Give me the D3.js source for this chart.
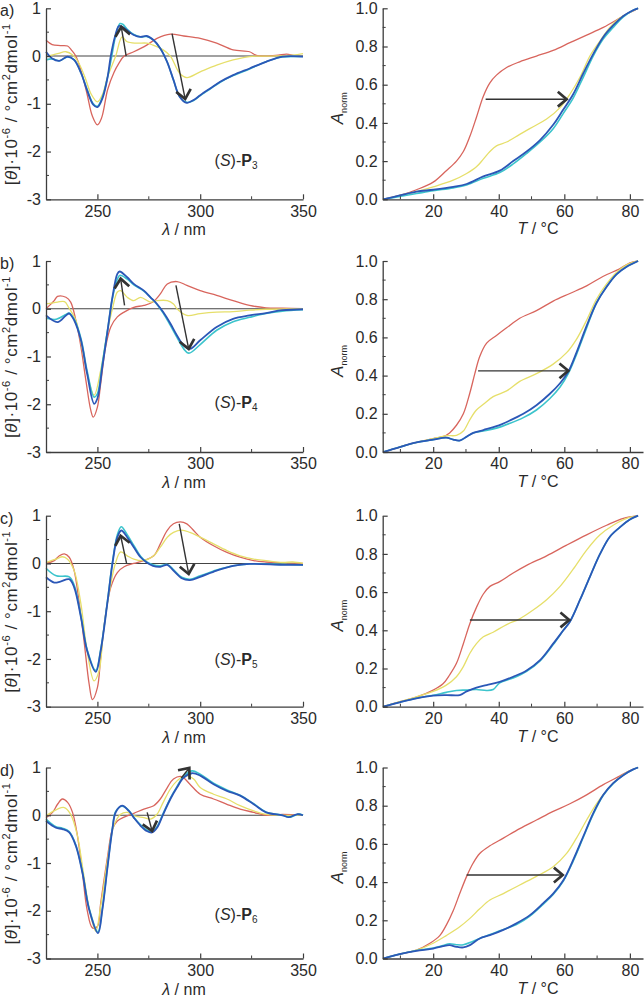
<!DOCTYPE html>
<html>
<head>
<meta charset="utf-8">
<script src="https://cdn.jsdelivr.net/npm/d3@7"></script>
<style>
  body { margin: 0; background: #fff; }
  svg { display: block; font-family: "Liberation Sans", Arial, sans-serif; }
</style>
</head>
<body>
<svg id="chart" width="644" height="996"></svg>
<script>
// ---- data ----
// CD spectra: [wavelength nm, theta x 1e-6]
var cdP3Red = [[225,0.33],[228,0.24],[232,0.22],[235.5,0.21],[237.5,0.12],[239.5,0],[242,-0.3],[245,-0.8],[247.5,-1.25],[250,-1.44],[252,-1.3],[255,-0.7],[258,-0.35],[260.5,-0.15],[263,0],[267.7,0.09],[274,0.23],[279,0.37],[285.5,0.46],[292,0.42],[300,0.37],[308,0.27],[316,0.13],[324,0.09],[327,0.02],[332,0],[338,0.02],[342,0.04],[346,0.01],[350,0]];
var cdP3Yellow = [[225,-0.01],[230.6,0.05],[234.7,0.09],[238,0.02],[241,-0.15],[244,-0.45],[247,-0.8],[250,-0.96],[252.5,-0.8],[255,-0.43],[258.9,0],[262,0.4],[264.5,0.3],[269,0.27],[274,0.27],[277,0.23],[282,0.13],[285.5,0],[290,-0.36],[293.5,-0.45],[300,-0.33],[308,-0.19],[316,-0.08],[324,-0.01],[335,0],[345,0.02],[350,0.05]];
var cdP3Cyan = [[225,-0.08],[228,-0.06],[231.5,-0.1],[235.5,-0.02],[238.7,-0.08],[242,-0.35],[245,-0.7],[248,-1.0],[250,-1.05],[252.5,-0.85],[255,-0.43],[257,0],[259,0.45],[261,0.68],[262.5,0.66],[264.5,0.56],[267.7,0.45],[271,0.4],[274,0.41],[277.4,0.33],[280.6,0.16],[283.9,-0.12],[287,-0.5],[290,-0.85],[293.5,-0.97],[296.8,-0.93],[300,-0.83],[304.8,-0.69],[309.7,-0.55],[316,-0.41],[324,-0.27],[332,-0.12],[340,-0.02],[350,-0.01]];
var cdP3Blue = [[225,0.09],[228,-0.05],[231.5,-0.1],[235.5,-0.01],[238.7,-0.08],[242,-0.35],[245,-0.72],[248,-1.02],[250,-1.07],[252.5,-0.88],[255,-0.43],[256.5,0],[258.5,0.4],[260.5,0.63],[262.5,0.6],[264.5,0.54],[267.7,0.44],[271,0.4],[274,0.42],[277.4,0.33],[280.6,0.16],[283.9,-0.12],[287,-0.5],[290,-0.85],[293.5,-0.98],[296.8,-0.92],[300,-0.82],[304.8,-0.68],[309.7,-0.54],[316,-0.4],[324,-0.26],[332,-0.12],[340,-0.01],[350,-0.01]];

var cdP4Red = [[225,0],[229,0.17],[230.6,0.26],[234.7,0.24],[237,0.14],[239.5,-0.24],[242,-0.8],[244.4,-1.5],[246.8,-2.13],[248,-2.27],[250,-2.06],[251.6,-1.57],[254,-0.8],[256.5,-0.38],[259.7,-0.17],[263,-0.07],[267.7,0.03],[272.6,0.07],[277,0.14],[280.6,0.31],[284,0.52],[288.7,0.57],[293.5,0.49],[300,0.38],[308,0.28],[316,0.17],[324,0.07],[332,0.02],[340,0.01],[350,0]];
var cdP4Yellow = [[225,0.1],[230.6,0.14],[234,0.15],[236,0.03],[239.5,-0.24],[242,-0.7],[245,-1.35],[248.4,-1.81],[251.6,-1.29],[255,-0.45],[257.3,0],[259.7,0.35],[261.3,0.38],[264.5,0.24],[267.7,0.17],[271,0.24],[275.8,0.14],[279,0.17],[284,0.17],[287,0.1],[288.7,0],[293.5,-0.14],[300,-0.1],[308,-0.07],[316,-0.06],[324,-0.03],[332,-0.01],[350,0]];
var cdP4Cyan = [[225,-0.2],[230,-0.22],[234.7,-0.12],[236.3,-0.09],[238.7,-0.22],[242,-0.62],[245,-1.3],[248.4,-1.85],[250,-1.78],[252.4,-1.15],[255,-0.42],[257.3,0.22],[259.7,0.62],[261,0.7],[264.5,0.62],[267.7,0.5],[272.6,0.37],[275.8,0.24],[279,0.09],[282,-0.09],[285.5,-0.35],[288.7,-0.6],[292,-0.84],[294.5,-0.93],[300,-0.75],[308,-0.45],[316,-0.27],[324,-0.18],[332,-0.1],[340,-0.05],[350,-0.02]];
var cdP4Blue = [[225,-0.14],[230.6,-0.28],[234.7,-0.14],[236.3,-0.1],[238.7,-0.24],[242,-0.66],[245,-1.36],[248.4,-1.99],[250,-1.88],[252.4,-1.22],[255,-0.45],[257.3,0.24],[259.7,0.73],[260.8,0.78],[264.5,0.66],[267.7,0.52],[272.6,0.38],[275.8,0.24],[279,0.1],[282,-0.07],[285.5,-0.31],[288.7,-0.56],[292,-0.77],[295,-0.84],[300,-0.66],[308,-0.38],[316,-0.21],[324,-0.14],[332,-0.09],[340,-0.03],[350,-0.01]];

var cdP5Red = [[225,0],[229,0.06],[231.5,0.16],[233.9,0.2],[236.3,0.13],[238.7,-0.15],[241,-0.78],[243.5,-1.62],[246,-2.53],[247.6,-2.85],[250,-2.6],[251.6,-1.97],[254,-1.06],[256.5,-0.5],[259.7,-0.19],[263,-0.07],[267.7,0],[272.6,0.06],[277.4,0.16],[280.6,0.41],[283.9,0.69],[287,0.83],[290.3,0.87],[293.5,0.83],[296.8,0.69],[300,0.55],[306.5,0.37],[313,0.23],[319.4,0.13],[326,0.06],[332,0.03],[340,0.01],[350,0]];
var cdP5Yellow = [[225,0.02],[229.8,0.09],[233,0.14],[235.5,0.09],[238.7,-0.15],[242,-0.85],[245,-1.83],[248.4,-2.46],[250.8,-2.25],[253,-1.41],[256.5,-0.43],[258.9,0.02],[261.3,0.24],[264.5,0.16],[267.7,0.09],[272.6,0.06],[277.4,0.16],[280.6,0.34],[284,0.55],[287,0.65],[291,0.7],[295,0.65],[300,0.55],[306.5,0.41],[313,0.27],[319.4,0.16],[326,0.09],[332,0.06],[340,0.02],[345,0.03],[350,0]];
var cdP5Cyan = [[225,-0.1],[230,-0.26],[236.3,-0.28],[238.7,-0.45],[242,-1.1],[245,-1.8],[249.2,-2.24],[251.6,-1.8],[255,-0.75],[257.3,0.02],[259.7,0.6],[261.6,0.77],[264.5,0.6],[267.7,0.38],[271,0.15],[274,0.03],[277,-0.03],[280.6,-0.05],[284,-0.02],[287,-0.13],[291,-0.29],[295,-0.33],[300,-0.26],[308,-0.14],[316,-0.05],[324,-0.01],[340,-0.02],[350,-0.03]];
var cdP5Blue = [[225,-0.29],[229,-0.4],[232,-0.38],[236.3,-0.33],[238.7,-0.5],[242,-1.13],[245,-1.83],[249.2,-2.27],[251.6,-1.83],[255,-0.78],[257.3,-0.01],[259.7,0.55],[261.6,0.69],[264.5,0.55],[267.7,0.34],[271,0.13],[274,0.02],[277,-0.05],[280.6,-0.07],[284,-0.03],[287,-0.15],[291,-0.31],[295,-0.35],[300,-0.28],[308,-0.15],[316,-0.05],[324,-0.01],[340,-0.03],[350,-0.03]];

var cdP6Red = [[225,-0.05],[228.2,0.06],[230.6,0.23],[233,0.34],[235.5,0.27],[237.9,0.06],[240.3,-0.43],[242.7,-1.2],[245,-1.98],[247.6,-2.36],[250,-2.33],[251.6,-1.84],[255,-0.85],[257.3,-0.29],[259.7,-0.12],[263,-0.04],[267.7,0.04],[272.6,0.13],[277.4,0.2],[280.6,0.34],[284,0.58],[287,0.76],[291,0.81],[295,0.65],[300,0.44],[306.5,0.34],[313,0.23],[319.4,0.13],[326,0.06],[332,0],[340,0.02],[350,0]];
var cdP6Yellow = [[225,-0.01],[230.6,0.13],[233.9,0.16],[237,0.02],[240.3,-0.43],[243,-1.15],[246,-1.95],[249.2,-2.43],[251.6,-1.9],[255,-0.92],[258,-0.22],[261.3,0.02],[264.5,0.06],[267.7,-0.01],[272.6,-0.05],[275.8,-0.08],[279,0.02],[282,0.27],[285.5,0.55],[288.7,0.72],[292.7,0.83],[296.8,0.76],[300,0.58],[306.5,0.44],[313,0.34],[319.4,0.2],[326,0.09],[332,0.02],[350,0]];
var cdP6Cyan = [[225,-0.08],[229.8,-0.24],[233,-0.27],[236.3,-0.34],[239.5,-0.62],[242.7,-1.18],[246,-1.95],[250.3,-2.44],[252.4,-1.96],[255,-1.04],[257.3,-0.27],[258.9,0.08],[262,0.19],[265.3,0.1],[267.7,-0.04],[271,-0.2],[274,-0.31],[276.6,-0.34],[279,-0.24],[282,0.04],[285.5,0.36],[288.7,0.6],[292,0.82],[296,0.93],[300,0.86],[306.5,0.67],[313,0.53],[319.4,0.42],[326,0.24],[332,0.07],[340,0],[344,-0.04],[348,0.03],[350,0]];
var cdP6Blue = [[225,-0.12],[229.8,-0.26],[233,-0.29],[236.3,-0.36],[239.5,-0.64],[242.7,-1.2],[246,-1.98],[250.3,-2.47],[252.4,-1.98],[255,-1.06],[257.3,-0.29],[258.9,0.06],[262,0.2],[265.3,0.09],[267.7,-0.05],[271,-0.22],[274,-0.33],[276.6,-0.36],[279,-0.26],[282,0.02],[285.5,0.34],[288.7,0.58],[292,0.79],[296,0.88],[300,0.83],[306.5,0.65],[313,0.51],[319.4,0.41],[326,0.23],[332,0.06],[340,0],[343,-0.04],[347,0.02],[350,0]];

// melting curves: [T degC, A_norm]
var mtP3Red = [[4.7,0],[9.8,0.02],[14.9,0.05],[20,0.09],[24,0.15],[27.1,0.2],[29.2,0.25],[31.2,0.33],[33.2,0.43],[35.3,0.54],[37.3,0.61],[39.3,0.65],[42.4,0.69],[46.4,0.72],[51.5,0.75],[56.6,0.78],[61.7,0.82],[66.8,0.86],[71.9,0.9],[77,0.95],[79,0.97],[81.5,0.99],[82.5,1.0]];
var mtP3Yellow = [[4.7,0],[9.8,0.02],[14.9,0.04],[20,0.065],[26.1,0.1],[30.2,0.135],[33.2,0.17],[35.3,0.21],[37.3,0.25],[39.3,0.28],[42.4,0.3],[46.4,0.34],[50.5,0.38],[54.6,0.42],[58.7,0.48],[61.7,0.55],[64.8,0.64],[67.8,0.75],[70.9,0.83],[73.9,0.9],[77,0.95],[80,0.98],[82.5,1.0]];
var mtP3Cyan = [[4.7,0],[9.8,0.015],[14.9,0.03],[20,0.045],[26.1,0.06],[30.2,0.075],[35.3,0.11],[40.3,0.14],[44.4,0.185],[48.5,0.24],[52.6,0.3],[56.6,0.37],[59.7,0.45],[62.7,0.53],[65.8,0.64],[68.8,0.75],[71.9,0.84],[74.9,0.9],[78,0.955],[81,0.99],[82.5,1.0]];
var mtP3Blue = [[4.7,0],[9.8,0.02],[14.9,0.04],[20,0.05],[26.1,0.065],[30.2,0.08],[35.3,0.12],[40.3,0.15],[44.4,0.2],[48.5,0.25],[52.6,0.31],[56.6,0.39],[59.7,0.47],[62.7,0.55],[65.8,0.66],[68.8,0.76],[71.9,0.85],[74.9,0.91],[78,0.96],[81,0.99],[82.5,1.0]];

var mtP4Red = [[4.7,0],[9.8,0.026],[14.9,0.05],[20,0.07],[23,0.08],[25,0.1],[27.1,0.14],[29.2,0.2],[31.2,0.31],[32.7,0.41],[34.2,0.5],[36.3,0.57],[39.3,0.61],[42.4,0.65],[46.4,0.7],[51.5,0.74],[56.6,0.79],[61.7,0.83],[66.8,0.87],[71.9,0.92],[77,0.96],[80,0.99],[82.5,1.0]];
var mtP4Yellow = [[4.7,0],[9.8,0.026],[14.9,0.05],[20,0.07],[24,0.085],[27.1,0.087],[29.2,0.11],[31.2,0.17],[33.2,0.22],[35.3,0.25],[38.3,0.29],[42.4,0.32],[46.4,0.37],[51.5,0.41],[56.6,0.46],[60.7,0.52],[63.7,0.59],[66.8,0.69],[69.8,0.8],[72.9,0.88],[75.9,0.94],[79,0.98],[82.5,1.0]];
var mtP4Cyan = [[4.7,0],[9.8,0.026],[14.9,0.05],[20,0.065],[24,0.075],[26.1,0.065],[28.1,0.06],[30.2,0.08],[32.2,0.1],[35.3,0.11],[39.3,0.125],[43.4,0.15],[47.5,0.18],[51.5,0.22],[55.6,0.28],[58.7,0.34],[61.2,0.41],[63.7,0.51],[66.8,0.65],[69.8,0.78],[72.9,0.865],[75.9,0.93],[79,0.97],[82.5,1.0]];
var mtP4Blue = [[4.7,0],[9.8,0.026],[14.9,0.05],[20,0.065],[24,0.075],[26.1,0.065],[28.1,0.06],[30.2,0.08],[32.2,0.1],[35.3,0.115],[39.3,0.135],[43.4,0.165],[47.5,0.2],[51.5,0.245],[55.6,0.305],[58.7,0.36],[61.2,0.42],[63.7,0.52],[66.8,0.66],[69.8,0.78],[72.9,0.865],[75.9,0.93],[79,0.97],[82.5,1.0]];

var mtP5Red = [[4.7,0],[9.8,0.026],[14.9,0.05],[20,0.087],[23,0.12],[25,0.166],[27.1,0.227],[29.2,0.33],[31.2,0.436],[33.2,0.52],[35.3,0.59],[37.3,0.63],[40.3,0.655],[44.4,0.7],[48.5,0.74],[54.6,0.79],[60.7,0.846],[66.8,0.9],[72.9,0.95],[78,0.986],[82.5,1.0]];
var mtP5Yellow = [[4.7,0],[9.8,0.026],[14.9,0.052],[20,0.08],[24,0.113],[27.1,0.157],[29.2,0.21],[31.2,0.28],[33.2,0.33],[35.3,0.366],[38.3,0.39],[42.4,0.43],[46.4,0.46],[50.5,0.506],[54.6,0.56],[58.7,0.63],[62.7,0.72],[66.8,0.82],[70.9,0.9],[74.9,0.95],[79,0.986],[82.5,1.0]];
var mtP5Cyan = [[4.7,0],[9.8,0.023],[14.9,0.044],[20,0.06],[24,0.075],[27.1,0.085],[30.2,0.087],[33.2,0.09],[36.3,0.085],[38.3,0.09],[40.3,0.125],[44.4,0.15],[48.5,0.185],[52.6,0.24],[56.6,0.325],[59.7,0.4],[61.7,0.445],[64.8,0.56],[67.8,0.68],[70.9,0.8],[73.9,0.89],[77,0.94],[80,0.98],[82.5,1.0]];
var mtP5Blue = [[4.7,0],[9.8,0.023],[14.9,0.044],[20,0.058],[24,0.061],[28.1,0.061],[30.2,0.08],[33.2,0.1],[36.3,0.113],[40.3,0.13],[44.4,0.157],[48.5,0.19],[52.6,0.244],[56.6,0.33],[59.7,0.4],[61.7,0.445],[64.8,0.56],[67.8,0.68],[70.9,0.8],[73.9,0.89],[77,0.94],[80,0.98],[82.5,1.0]];

var mtP6Red = [[4.7,0],[9.8,0.023],[14.9,0.044],[19,0.08],[22,0.12],[24,0.175],[26.1,0.25],[28.1,0.34],[30.2,0.43],[32.2,0.5],[34.2,0.55],[37.3,0.59],[41.4,0.63],[46.4,0.68],[51.5,0.725],[56.6,0.77],[61.7,0.81],[66.8,0.857],[71.9,0.91],[77,0.956],[80,0.984],[82.5,1.0]];
var mtP6Yellow = [[4.7,0],[9.8,0.023],[14.9,0.044],[20,0.08],[24,0.12],[28.1,0.166],[31.2,0.21],[34.2,0.26],[37.3,0.306],[41.4,0.34],[46.4,0.385],[51.5,0.43],[56.6,0.48],[60.7,0.55],[63.7,0.63],[66.8,0.725],[69.8,0.81],[72.9,0.88],[75.9,0.935],[79,0.974],[82.5,1.0]];
var mtP6Cyan = [[4.7,0],[9.8,0.023],[14.9,0.042],[20,0.055],[23,0.068],[25,0.077],[27.1,0.072],[29.2,0.072],[32.2,0.09],[35.3,0.112],[40.3,0.145],[45.4,0.178],[49.5,0.222],[53.6,0.285],[56.6,0.335],[59.7,0.405],[62.7,0.51],[65.8,0.635],[68.8,0.755],[71.9,0.855],[74.9,0.915],[78,0.96],[81,0.99],[82.5,1.0]];
var mtP6Blue = [[4.7,0],[9.8,0.023],[14.9,0.04],[20,0.052],[23,0.065],[25,0.07],[27.1,0.061],[29.2,0.058],[31.2,0.07],[34.2,0.105],[37.3,0.122],[41.4,0.15],[45.4,0.184],[49.5,0.227],[53.6,0.29],[56.6,0.34],[59.7,0.41],[62.7,0.516],[65.8,0.64],[68.8,0.76],[71.9,0.857],[74.9,0.918],[78,0.96],[81,0.99],[82.5,1.0]];

// arrows drawn on the plots, in data units [x1,y1,x2,y2] (head at x2,y2)
var cdArrows = [
    [[264,0.0,261.6,0.61],[286.3,0.47,292.7,-0.9]],
    [[263.2,0.07,261.3,0.63],[288.2,0.49,294.4,-0.84]],
    [[264.2,0.0,261.3,0.58],[289.8,0.83,294.4,-0.22]],
    [[274.2,0.06,276.6,-0.33],[290.8,0.78,294.7,0.99]]
];
var mtArrows = [[36,0.524,60.7,0.524],[33.7,0.425,61.2,0.425],[31.2,0.454,61.5,0.454],[30.2,0.437,59.5,0.437]];

var panelLetters = ['a)', 'b)', 'c)', 'd)'];
var polymerSubs = ['3', '4', '5', '6'];
var labelPos = [[307,-2.3],[307,-2.08],[307,-2.13],[307,-2.2]];

var cdTicksY = [-3,-2,-1,0,1];
var cdTicksX = [250,300,350];
var mtTicksY = [0,0.2,0.4,0.6,0.8,1.0];
var mtTicksX = [20,40,60,80];

var seriesColors = ['#d8655d', '#e6df6a', '#3cc4cc', '#2b57b7'];
var seriesWidths = [1.3, 1.3, 1.6, 1.8];

var cdSeries = [
    [cdP3Red, cdP3Yellow, cdP3Cyan, cdP3Blue],
    [cdP4Red, cdP4Yellow, cdP4Cyan, cdP4Blue],
    [cdP5Red, cdP5Yellow, cdP5Cyan, cdP5Blue],
    [cdP6Red, cdP6Yellow, cdP6Cyan, cdP6Blue]
];
var mtSeries = [
    [mtP3Red, mtP3Yellow, mtP3Cyan, mtP3Blue],
    [mtP4Red, mtP4Yellow, mtP4Cyan, mtP4Blue],
    [mtP5Red, mtP5Yellow, mtP5Cyan, mtP5Blue],
    [mtP6Red, mtP6Yellow, mtP6Cyan, mtP6Blue]
];

// ---- layout ----
var rowTops = [8.3, 261, 515.7, 767.5];
var plotH = 191;
var axisColor = '#3d3d3d';
var textColor = '#2a2a2a';

var svg = d3.select('#chart');

var cdX = d3.scaleLinear().domain([225, 350]).range([46, 303]);
var mtX = d3.scaleLinear().domain([4.6, 84]).range([382.7, 643]);

function styleAxis(g) {
    g.select('.domain').attr('stroke', axisColor).attr('stroke-width', 1.3);
    g.selectAll('.tick line').attr('stroke', axisColor).attr('stroke-width', 1.2);
    g.selectAll('.tick text')
        .attr('fill', textColor)
        .style('font-size', '16px')
        .style('font-family', '"Liberation Sans", Arial, sans-serif');
}

function minorTicks(g, values, orient, len) {
    g.selectAll('line.minor')
        .data(values)
        .enter()
        .append('line')
        .attr('class', 'minor')
        .attr('stroke', axisColor)
        .attr('stroke-width', 1)
        .each(function(d) {
            var el = d3.select(this);
            if (orient === 'x') {
                el.attr('x1', d.pos).attr('x2', d.pos).attr('y1', 0).attr('y2', -len);
            } else {
                el.attr('y1', d.pos).attr('y2', d.pos).attr('x1', 0).attr('x2', len);
            }
        });
}

function drawArrow(g, x1, y1, x2, y2) {
    g.append('line')
        .attr('x1', x1).attr('y1', y1)
        .attr('x2', x2).attr('y2', y2)
        .attr('stroke', '#333')
        .attr('stroke-width', 1.4);
    var ang = Math.atan2(y2 - y1, x2 - x1);
    var len = 11.5, spread = 0.7;
    var p1 = [x2 - len * Math.cos(ang - spread), y2 - len * Math.sin(ang - spread)];
    var p2 = [x2 - len * Math.cos(ang + spread), y2 - len * Math.sin(ang + spread)];
    g.append('path')
        .attr('d', 'M' + p1 + 'L' + [x2, y2] + 'L' + p2)
        .attr('fill', 'none')
        .attr('stroke', '#333')
        .attr('stroke-width', 2.7)
        .attr('stroke-linejoin', 'miter')
        .attr('stroke-linecap', 'butt');
}

var lineGen = d3.line().curve(d3.curveCatmullRom.alpha(0.5));

rowTops.forEach(function(top, i) {
    var bottom = top + plotH;

    // ---------- CD spectrum (left) ----------
    var cdY = d3.scaleLinear().domain([-3, 1]).range([bottom, top]);
    var left = svg.append('g').attr('class', 'cd');

    // zero line
    left.append('line')
        .attr('x1', cdX(225)).attr('x2', cdX(350))
        .attr('y1', cdY(0)).attr('y2', cdY(0))
        .attr('stroke', '#444').attr('stroke-width', 1.1);

    lineGen.x(function(d) { return cdX(d[0]); }).y(function(d) { return cdY(d[1]); });
    cdSeries[i].forEach(function(s, k) {
        left.append('path')
            .attr('d', lineGen(s))
            .attr('fill', 'none')
            .attr('stroke', seriesColors[k])
            .attr('stroke-width', seriesWidths[k]);
    });

    var gx = left.append('g')
        .attr('transform', 'translate(0,' + bottom + ')')
        .call(d3.axisBottom(cdX).tickValues(cdTicksX).tickSize(-5).tickSizeOuter(0).tickPadding(6)
            .tickFormat(function(d) { return String(d); }));
    styleAxis(gx);
    minorTicks(gx, [275, 325].map(function(v) { return {pos: cdX(v)}; }), 'x', 3);

    var gy = left.append('g')
        .attr('transform', 'translate(' + cdX(225) + ',0)')
        .call(d3.axisLeft(cdY).tickValues(cdTicksY).tickSize(-5).tickSizeOuter(0).tickPadding(5)
            .tickFormat(function(d) { return String(d); }));
    styleAxis(gy);
    minorTicks(gy, [-2.5, -1.5, -0.5, 0.5].map(function(v) { return {pos: cdY(v)}; }), 'y', 3);

    cdArrows[i].forEach(function(a) {
        drawArrow(left, cdX(a[0]), cdY(a[1]), cdX(a[2]), cdY(a[3]));
    });

    // axis titles
    left.append('text')
        .attr('x', 184).attr('y', bottom + 36)
        .attr('text-anchor', 'middle')
        .attr('fill', textColor)
        .style('font-size', '16px')
        .html('<tspan font-style="italic">λ</tspan> / nm');

    var yl = left.append('text')
        .attr('transform', 'translate(17,' + (top + 96) + ') rotate(-90)')
        .attr('text-anchor', 'middle')
        .attr('fill', textColor)
        .style('font-size', '17px')
        .style('letter-spacing', '0.6px');
    yl.append('tspan').text('[');
    yl.append('tspan').attr('font-style', 'italic').text('θ');
    yl.append('tspan').text(']·10');
    yl.append('tspan').attr('dy', -7).style('font-size', '11px').text('-6');
    yl.append('tspan').attr('dy', 7).text(' / °cm');
    yl.append('tspan').attr('dy', -7).style('font-size', '11px').text('2');
    yl.append('tspan').attr('dy', 7).text('dmol');
    yl.append('tspan').attr('dy', -7).style('font-size', '11px').text('-1');

    // panel letter
    left.append('text')
        .attr('x', 0).attr('y', top + 8)
        .attr('fill', textColor)
        .style('font-size', '16px')
        .text(panelLetters[i]);

    // compound label
    var pl = left.append('text')
        .attr('x', cdX(labelPos[i][0])).attr('y', cdY(labelPos[i][1]))
        .attr('fill', textColor)
        .style('font-size', '16px');
    pl.append('tspan').text('(');
    pl.append('tspan').attr('font-style', 'italic').text('S');
    pl.append('tspan').text(')-');
    pl.append('tspan').attr('font-weight', 'bold').text('P');
    pl.append('tspan').attr('dy', 3).style('font-size', '10px').text(polymerSubs[i]);

    // ---------- melting curve (right) ----------
    var mtY = d3.scaleLinear().domain([0, 1]).range([bottom, top]);
    var right = svg.append('g').attr('class', 'melt');

    lineGen.x(function(d) { return mtX(d[0]); }).y(function(d) { return mtY(d[1]); });
    mtSeries[i].forEach(function(s, k) {
        right.append('path')
            .attr('d', lineGen(s))
            .attr('fill', 'none')
            .attr('stroke', seriesColors[k])
            .attr('stroke-width', seriesWidths[k]);
    });

    var rx = right.append('g')
        .attr('transform', 'translate(0,' + bottom + ')')
        .call(d3.axisBottom(mtX).tickValues(mtTicksX).tickSize(-5).tickSizeOuter(0).tickPadding(6)
            .tickFormat(function(d) { return String(d); }));
    styleAxis(rx);
    minorTicks(rx, [10, 30, 50, 70].map(function(v) { return {pos: mtX(v)}; }), 'x', 3);

    var ry = right.append('g')
        .attr('transform', 'translate(' + mtX.range()[0] + ',0)')
        .call(d3.axisLeft(mtY).tickValues(mtTicksY).tickSize(-5).tickSizeOuter(0).tickPadding(5)
            .tickFormat(function(d) { return d.toFixed(1); }));
    styleAxis(ry);
    minorTicks(ry, [0.1, 0.3, 0.5, 0.7, 0.9].map(function(v) { return {pos: mtY(v)}; }), 'y', 3);

    var ma = mtArrows[i];
    drawArrow(right, mtX(ma[0]), mtY(ma[1]), mtX(ma[2]), mtY(ma[3]));

    right.append('text')
        .attr('x', 538).attr('y', bottom + 35)
        .attr('text-anchor', 'middle')
        .attr('fill', textColor)
        .style('font-size', '16px')
        .html('<tspan font-style="italic">T</tspan> / °C');

    var al = right.append('text')
        .attr('transform', 'translate(343,' + (top + 100) + ') rotate(-90)')
        .attr('text-anchor', 'middle')
        .attr('fill', textColor)
        .style('font-size', '17px');
    al.append('tspan').attr('font-style', 'italic').text('A');
    al.append('tspan').attr('dy', 4).style('font-size', '9px').text('norm');
});
</script>
</body>
</html>
